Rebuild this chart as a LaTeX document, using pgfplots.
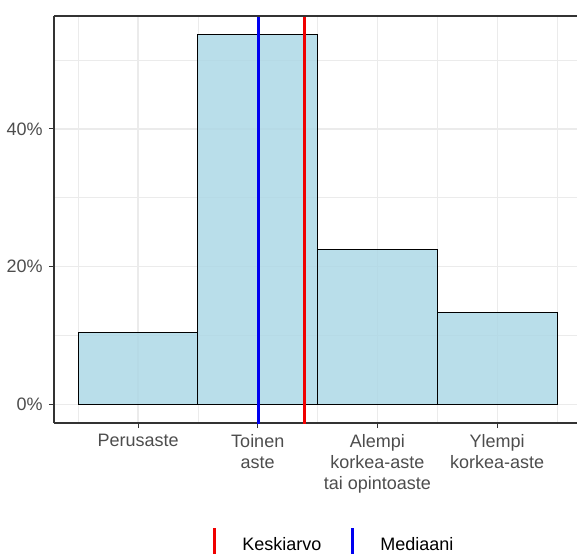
\documentclass[border=0pt]{standalone}
\usepackage{fontspec}
\setmainfont{Liberation Sans}
\usepackage{pgfplots}
\pgfplotsset{compat=1.18}
\definecolor{barfill}{HTML}{ADD8E6}
\definecolor{gridc}{HTML}{EBEBEB}
\definecolor{g30}{HTML}{4D4D4D}
\definecolor{g20}{HTML}{333333}
\definecolor{meanred}{HTML}{F00000}
\definecolor{medblue}{HTML}{0000F0}
\begin{document}
\fontsize{9}{10.5}\selectfont
\begin{tikzpicture}
\begin{axis}[
  at={(27pt,65pt)}, anchor=south west,
  scale only axis, width=261.5pt, height=203.5pt,
  xmin=0.298, xmax=4.667, ymin=-2.69, ymax=56.4,
  axis lines*=left,
  xtick={1,2,3,4},
  xticklabels={Perusaste,{Toinen\\aste},{Alempi\\korkea-aste\\tai opintoaste},{Ylempi\\korkea-aste}},
  minor xtick={0.5,1.5,2.5,3.5,4.5},
  ytick={0,20,40}, yticklabels={0\%,20\%,40\%},
  minor ytick={10,30,50},
  grid=both,
  major grid style={gridc, line width=0.6pt},
  minor grid style={gridc, line width=0.35pt},
  tick align=outside,
  major tick length=2.5pt, minor tick length=0pt,
  tick style={g20, line width=0.5pt},
  axis line style={g20, line width=0.7pt, -},
  xticklabel style={align=center, text=g30, font=\fontsize{9}{10.5}\selectfont},
  yticklabel style={text=g30, font=\fontsize{9}{10.5}\selectfont},
  legend columns=2,
  legend style={draw=none, fill=none, font=\fontsize{9}{10.5}\selectfont,
    at={(axis description cs:0.538,-0.30)}, anchor=center,
    /tikz/every odd column/.append style={column sep=11pt},
    /tikz/every even column/.append style={column sep=13pt}},
  legend image code/.code={\draw[#1] (0cm,-0.3cm) -- (0cm,0.3cm);},
]
\addplot[ybar interval, fill=barfill, fill opacity=0.85, draw=black, line width=0.45pt, forget plot]
  coordinates {(0.5,10.4) (1.5,53.7) (2.5,22.5) (3.5,13.4) (4.5,13.4)};
\addplot[meanred, line width=1.5pt] coordinates {(2.39,-10) (2.39,70)};
\addlegendentry{Keskiarvo}
\addplot[medblue, line width=1.5pt] coordinates {(2.005,-10) (2.005,70)};
\addlegendentry{Mediaani}
\draw[g20, line width=0.7pt] (rel axis cs:0,1) -- (rel axis cs:1,1);
\end{axis}
\pgfresetboundingbox
\useasboundingbox (0,0) rectangle (289pt,276.5pt);
\end{tikzpicture}
\end{document}
